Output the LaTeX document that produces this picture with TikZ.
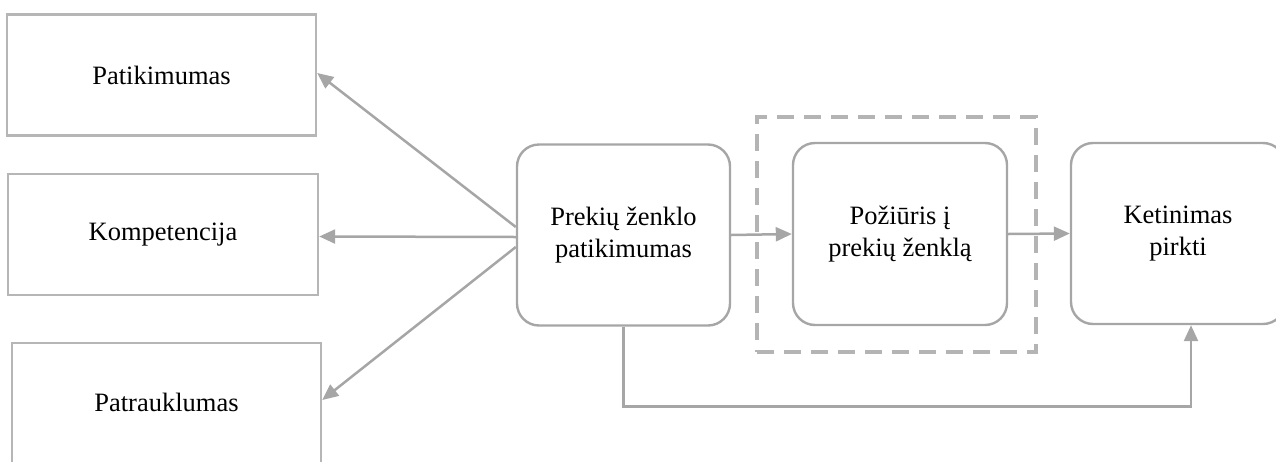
\documentclass[tikz,border=0pt]{standalone}
\usepackage{fontspec}
\setmainfont{Liberation Serif}
\usetikzlibrary{arrows.meta,calc}
\definecolor{lineg}{HTML}{A6A6A6}
\definecolor{boxg}{HTML}{B6B6B6}
\definecolor{dashg}{HTML}{B4B4B4}
\tikzset{
  txt/.style={font=\fontsize{26.5}{32}\selectfont, align=center, inner sep=0pt},
  sqbox/.style={txt, draw=boxg, line width=2.4pt, minimum width=309pt, minimum height=121pt},
  rbox/.style={txt, draw=lineg, line width=2.4pt, rounded corners=22pt, minimum width=213pt, minimum height=181pt},
  conn/.style={draw=lineg, line width=2.5pt, -{Triangle[length=16pt,width=14pt]}},
  group/.style={draw=dashg, line width=3.5pt, dash pattern=on 17pt off 10pt}
}
\begin{document}
\begin{tikzpicture}[x=1pt,y=-1pt]
\useasboundingbox (0,0) rectangle (1276,461);
\clip (0,0) rectangle (1276,461);

% attribute boxes on the left
\node[sqbox] (b1) at (161.5,75) {Patikimumas};
\node[sqbox, minimum width=310pt] (b2) at (163,234.5) {Kompetencija};
\node[sqbox, minimum height=122pt] (b3) at (166.5,404) {};
\node[txt] (b3t) at (166.5,402) {Patrauklumas};

% dashed frame around the mediator
\node[group, minimum width=279pt, minimum height=235pt, inner sep=0pt] (grp) at (896.5,234.5) {};

% main flow boxes
\node[rbox] (pz) at (623.5,235) {Prekių ženklo\\patikimumas};
\node[rbox, minimum width=214pt, minimum height=182pt] (pp) at (900,234) {Požiūris į\\prekių ženklą};
\node[rbox, minimum width=214pt] (kp) at (1178,233.5) {Ketinimas\\pirkti};

% connectors from brand credibility to its dimensions
\draw[conn] ([yshift=8pt]pz.west) -- ([yshift=2pt]b1.east);
\draw[conn] ([yshift=-2pt]pz.west) -- ([yshift=-2pt]b2.east);
\draw[conn] ([yshift=-12pt]pz.west) -- ([yshift=4pt]b3.east);

% main path
\draw[conn] (pz.east) -- (pp.west);
\draw[conn] (pp.east) -- (kp.west);

% direct effect
\draw[conn] (pz.south) -- ++(0,80) -| ([xshift=13pt]kp.south);
\end{tikzpicture}
\end{document}
